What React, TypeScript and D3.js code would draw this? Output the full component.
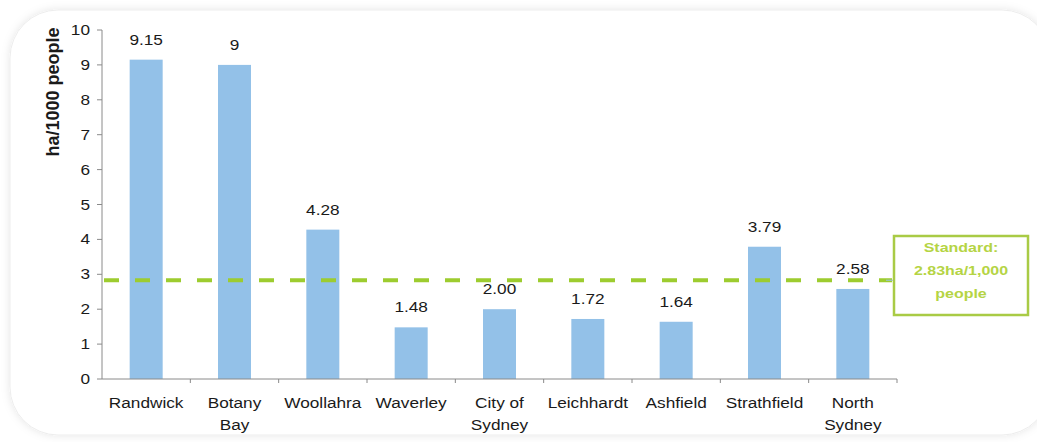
import React, { useMemo } from 'react';
import * as d3 from 'd3';

// data
const councils = ['Randwick', 'Botany Bay', 'Woollahra', 'Waverley', 'City of Sydney', 'Leichhardt', 'Ashfield', 'Strathfield', 'North Sydney'];
const councilLines = [['Randwick'], ['Botany', 'Bay'], ['Woollahra'], ['Waverley'], ['City of', 'Sydney'], ['Leichhardt'], ['Ashfield'], ['Strathfield'], ['North', 'Sydney']];
const openSpace = [9.15, 9, 4.28, 1.48, 2.0, 1.72, 1.64, 3.79, 2.58];
const valueLabels = ['9.15', '9', '4.28', '1.48', '2.00', '1.72', '1.64', '3.79', '2.58'];
const yTicks = [0, 1, 2, 3, 4, 5, 6, 7, 8, 9, 10];
const standardValue = 2.83;
const standardLines = ['Standard:', '2.83ha/1,000', 'people'];

const W = 1037;
const H = 442;
const FONT = 'Arial, "Liberation Sans", sans-serif';
const BAR_W = 33;
// text in the original is stretched sideways
const SX = 1.23;

// text drawn at (x, y) with the sideways stretch
function Txt({ x, y, anchor = 'middle', size = 14, weight = 'normal', fill = '#1a1a1a', lines, lh = 22, dy }: any) {
    return (
        <text transform={`translate(${x},${y}) scale(${SX},1)`} textAnchor={anchor} fontSize={size}
            fontWeight={weight} fill={fill} dy={dy}>
            {lines.map((l: string, j: number) => (
                <tspan key={j} x={0} dy={j === 0 ? dy || 0 : lh}>{l}</tspan>
            ))}
        </text>
    );
}

function App() {
    const x = useMemo(() => d3.scaleBand().domain(councils).range([102, 897]), []);
    const y = useMemo(() => d3.scaleLinear().domain([0, 10]).range([379, 30]), []);

    const x0 = x.range()[0];
    const x1 = x.range()[1];
    const base = y(0);
    const stdY = y(standardValue);
    const mid = (c: string) => (x(c) || 0) + x.bandwidth() / 2;

    return (
        <svg width={W} height={H} style={{ position: 'absolute', left: 0, top: 0 }} fontFamily={FONT}>
            <defs>
                <filter id="cardShadow" x="-5%" y="-5%" width="110%" height="110%">
                    <feDropShadow dx="0" dy="0" stdDeviation="4" floodColor="#000" floodOpacity="0.1" />
                </filter>
            </defs>
            <rect x={0} y={0} width={W} height={H} fill="#fff" />
            <rect x={10} y={10} width={1040} height={425} rx={48} fill="#fff" stroke="#ededed" filter="url(#cardShadow)" />

            {/* bars */}
            <g>
                {councils.map((c, i) => (
                    <rect key={c} x={mid(c) - BAR_W / 2} y={y(openSpace[i])}
                        width={BAR_W} height={base - y(openSpace[i])} fill="#93c1e8" />
                ))}
            </g>

            {/* y axis */}
            <g>
                <line x1={x0} x2={x0} y1={y(10)} y2={base} stroke="#8a8a8a" strokeWidth={1} />
                {yTicks.map((t) => (
                    <g key={t}>
                        <line x1={x0 - 5} x2={x0} y1={y(t)} y2={y(t)} stroke="#8a8a8a" />
                        <Txt x={x0 - 12} y={y(t) + 5} anchor="end" lines={[String(t)]} />
                    </g>
                ))}
                <text transform={`translate(59,92) rotate(-90)`} textAnchor="middle"
                    fontSize={18} fontWeight="bold" fill="#1a1a1a">ha/1000 people</text>
            </g>

            {/* x axis */}
            <g>
                <line x1={x0} x2={x1} y1={base} y2={base} stroke="#8a8a8a" />
                {councils.map((c) => (
                    <line key={c} x1={(x(c) || 0) + x.bandwidth()} x2={(x(c) || 0) + x.bandwidth()} y1={base} y2={base + 4} stroke="#8a8a8a" />
                ))}
                {councils.map((c, i) => (
                    <Txt key={c} x={mid(c)} y={base + 29} lines={councilLines[i]} />
                ))}
            </g>

            {/* standard line */}
            <line x1={x0 + 2} x2={892} y1={stdY} y2={stdY} stroke="#9dcc2f" strokeWidth={4} strokeDasharray="15 16" />
            <line x1={886} x2={894} y1={stdY} y2={stdY} stroke="#9cc3e6" strokeWidth={1} />

            {/* value labels */}
            <g>
                {councils.map((c, i) => (
                    <Txt key={c} x={mid(c)} y={y(openSpace[i]) - 15} lines={[valueLabels[i]]} />
                ))}
            </g>

            {/* standard note */}
            <g>
                <rect x={894} y={236} width={134} height={79} fill="#fff" stroke="#a9cb45" strokeWidth={2.5} />
                <Txt x={961} y={252} size={13} weight="bold" fill="#b5d444" lh={23} lines={standardLines} />
            </g>
        </svg>
    );
}

export default App;
